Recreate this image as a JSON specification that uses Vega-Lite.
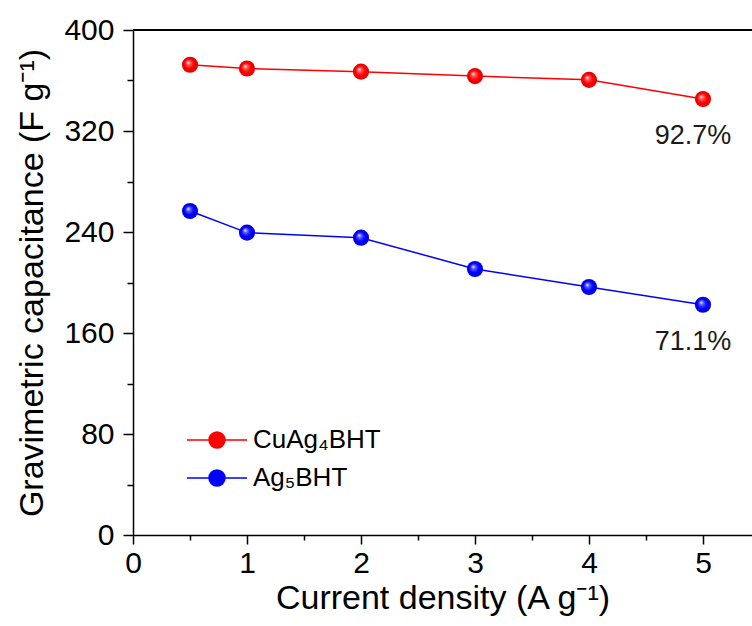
{
  "$schema": "https://vega.github.io/schema/vega-lite/v6.json",
  "width": 619,
  "height": 505,
  "autosize": "none",
  "padding": {"left": 133, "top": 30, "right": 0, "bottom": 91},
  "background": "white",
  "config": {
    "view": {"stroke": null},
    "font": "Liberation Sans",
    "axis": {
      "domainColor": "black",
      "domainWidth": 1.5,
      "tickColor": "black",
      "tickWidth": 1.5,
      "labelColor": "black",
      "titleColor": "black",
      "labelFont": "Liberation Sans",
      "titleFont": "Liberation Sans",
      "titleFontWeight": "normal",
      "grid": false
    }
  },
  "datasets": {
    "curves": [
      {"current": 0.5, "capacitance": 372.5, "sample": "CuAg₄BHT"},
      {"current": 1, "capacitance": 369.5, "sample": "CuAg₄BHT"},
      {"current": 2, "capacitance": 367.0, "sample": "CuAg₄BHT"},
      {"current": 3, "capacitance": 363.5, "sample": "CuAg₄BHT"},
      {"current": 4, "capacitance": 360.5, "sample": "CuAg₄BHT"},
      {"current": 5, "capacitance": 345.3, "sample": "CuAg₄BHT"},
      {"current": 0.5, "capacitance": 256.6, "sample": "Ag₅BHT"},
      {"current": 1, "capacitance": 239.5, "sample": "Ag₅BHT"},
      {"current": 2, "capacitance": 235.5, "sample": "Ag₅BHT"},
      {"current": 3, "capacitance": 210.7, "sample": "Ag₅BHT"},
      {"current": 4, "capacitance": 196.4, "sample": "Ag₅BHT"},
      {"current": 5, "capacitance": 182.4, "sample": "Ag₅BHT"}
    ],
    "retention": [
      {"current": 5, "capacitance": 345.3, "text": "92.7%"},
      {"current": 5, "capacitance": 182.4, "text": "71.1%"}
    ]
  },
  "data": {"name": "curves"},
  "resolve": {"axis": {"x": "independent", "y": "independent"}},
  "layer": [
    {
      "mark": {"type": "line", "strokeWidth": 1.5},
      "encoding": {
        "x": {
          "field": "current", "type": "quantitative",
          "scale": {"domain": [0, 5.43], "nice": false, "zero": false},
          "axis": {
            "orient": "bottom",
            "values": [0, 1, 2, 3, 4, 5],
            "tickSize": 9,
            "labelFontSize": 30,
            "labelPadding": 4,
            "labelFlush": false,
            "title": "Current density (A g⁻¹)",
            "titleFontSize": 34,
            "titlePadding": 3
          }
        },
        "y": {
          "field": "capacitance", "type": "quantitative",
          "scale": {"domain": [0, 400], "nice": false},
          "axis": {
            "orient": "left",
            "values": [0, 80, 160, 240, 320, 400],
            "tickSize": 10,
            "labelFontSize": 30,
            "labelPadding": 9,
            "labelFlush": false,
            "title": "Gravimetric capacitance (F g⁻¹)",
            "titleFontSize": 34,
            "titlePadding": 14
          }
        },
        "color": {
          "field": "sample", "type": "nominal",
          "scale": {"domain": ["CuAg₄BHT", "Ag₅BHT"], "range": ["#ff0000", "#0000ff"]},
          "legend": {
            "title": null,
            "orient": "none",
            "legendX": 71,
            "legendY": 397,
            "padding": 0,
            "symbolType": "M-3.75,0H3.75M1,0A1,1,0,1,1,-1,0A1,1,0,1,1,1,0Z",
            "symbolSize": 256,
            "symbolStrokeWidth": 1.5,
            "labelFontSize": 26,
            "labelFont": "Liberation Sans",
            "labelColor": "black",
            "labelOffset": 23,
            "rowPadding": 12,
            "encode": {
              "symbols": {"update": {"fill": {"scale": "color", "field": "value"}}}
            }
          }
        }
      }
    },
    {
      "transform": [{"filter": "datum.sample === 'CuAg₄BHT'"}],
      "mark": {
        "type": "point", "shape": "circle", "filled": true, "size": 260, "opacity": 1,
        "fill": {
          "gradient": "radial", "x1": 0.38, "y1": 0.35, "r1": 0, "x2": 0.5, "y2": 0.5, "r2": 0.5,
          "stops": [
            {"offset": 0, "color": "#ffffff"},
            {"offset": 0.25, "color": "#ff5a5a"},
            {"offset": 0.6, "color": "#ff0000"},
            {"offset": 1, "color": "#e00000"}
          ]
        }
      },
      "encoding": {
        "x": {
          "field": "current", "type": "quantitative",
          "axis": {
            "orient": "bottom",
            "values": [0.5, 1.5, 2.5, 3.5, 4.5],
            "tickSize": 5,
            "labels": false,
            "domain": false,
            "title": null
          }
        },
        "y": {
          "field": "capacitance", "type": "quantitative",
          "axis": {
            "orient": "left",
            "values": [40, 120, 200, 280, 360],
            "tickSize": 6,
            "labels": false,
            "domain": false,
            "title": null
          }
        }
      }
    },
    {
      "transform": [{"filter": "datum.sample === 'Ag₅BHT'"}],
      "mark": {
        "type": "point", "shape": "circle", "filled": true, "size": 260, "opacity": 1,
        "fill": {
          "gradient": "radial", "x1": 0.38, "y1": 0.35, "r1": 0, "x2": 0.5, "y2": 0.5, "r2": 0.5,
          "stops": [
            {"offset": 0, "color": "#ffffff"},
            {"offset": 0.25, "color": "#5a5aff"},
            {"offset": 0.6, "color": "#0000ff"},
            {"offset": 1, "color": "#0000e0"}
          ]
        }
      },
      "encoding": {
        "x": {"field": "current", "type": "quantitative", "axis": null},
        "y": {"field": "capacitance", "type": "quantitative", "axis": null}
      }
    },
    {
      "data": {"name": "retention"},
      "mark": {"type": "text", "fontSize": 27, "font": "Liberation Sans", "color": "#1a1a1a", "dx": -10, "dy": 37, "baseline": "middle", "align": "center"},
      "encoding": {
        "x": {"field": "current", "type": "quantitative", "axis": null},
        "y": {"field": "capacitance", "type": "quantitative", "axis": null},
        "text": {"field": "text"}
      }
    },
    {
      "mark": {"type": "rule", "color": "black", "strokeWidth": 2},
      "encoding": {
        "y": {"datum": 400, "type": "quantitative", "axis": null}
      }
    }
  ]
}
